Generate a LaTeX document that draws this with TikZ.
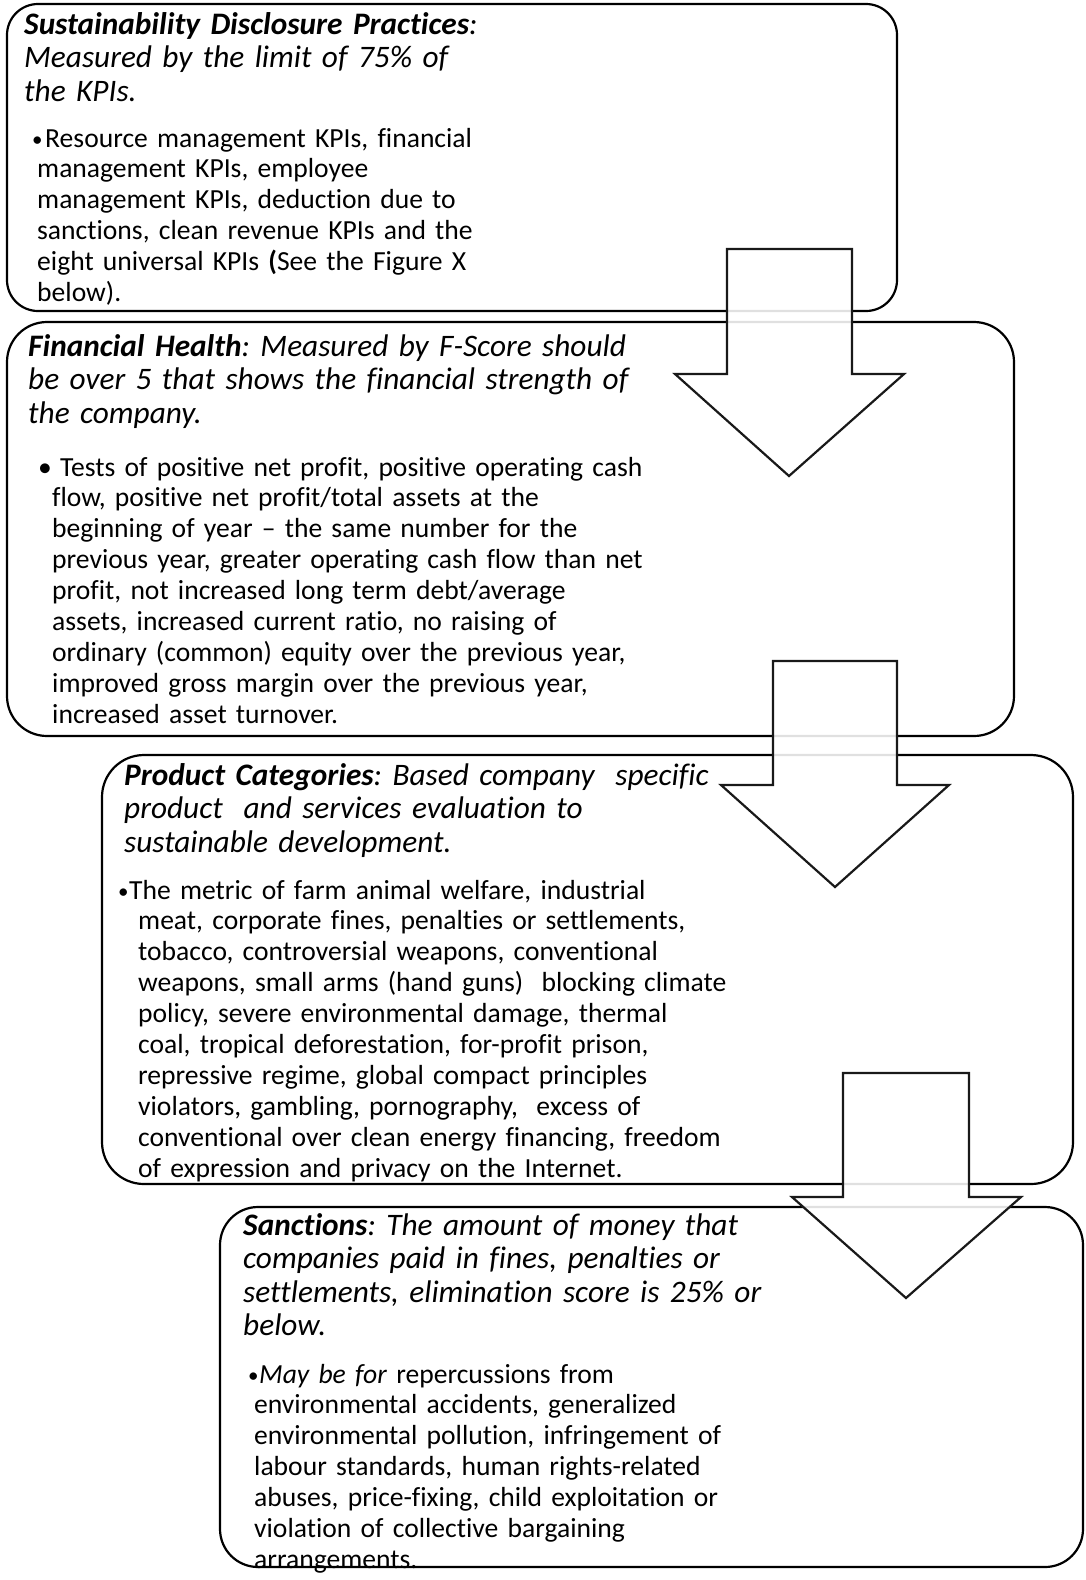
\documentclass[tikz,border=0pt]{standalone}
\usepackage{fontspec}
\setmainfont{Carlito}
\newfontfamily\headfont[WordSpace=0.8,Ligatures={TeX,NoCommon}]{Carlito}
\newfontfamily\bodyfont[WordSpace=0.7,Ligatures={TeX,NoCommon}]{Carlito}
\newcommand\dotmark{{\fontsize{21}{21}\selectfont\raisebox{1pt}{\textbullet}}}
\frenchspacing
\begin{document}
\begin{tikzpicture}[x=1pt,y=-1pt,
  stage/.style={draw=black,line width=2.2pt,fill=white},
  flow/.style={draw=black!90,line width=2.2pt,fill=white,fill opacity=0.88,line join=miter},
  head/.style={anchor=base west,inner sep=0pt,text width=900pt,align=left,
    font=\headfont\fontsize{31.3}{33.6}\selectfont\itshape},
  body/.style={anchor=base west,inner sep=0pt,text width=900pt,align=left,
    font=\bodyfont\fontsize{27.6}{30.9}\selectfont}]
\useasboundingbox (0,0) rectangle (1085,1580);

% stage boxes
\draw[stage,rounded corners=31pt] (7,4) rectangle (897,311);
\draw[stage,rounded corners=40pt] (7,322) rectangle (1014,736);
\draw[stage,rounded corners=42pt] (102,755) rectangle (1073,1184);
\draw[stage,rounded corners=38pt] (220,1207) rectangle (1083,1567);

% stage 1
\node[head] (h1) at (24,34) {\textbf{Sustainability Disclosure Practices}:\\
Measured by the limit of 75\% of\\ the KPIs.};
\node[body] (t1) at (37,147) {\makebox[0pt][l]{\hspace*{-5pt}\dotmark}\hspace*{8pt}Resource management KPIs, financial\\
management KPIs, employee\\
management KPIs, deduction due to\\
sanctions, clean revenue KPIs and the\\
eight universal KPIs \textbf{(}See the Figure X\\
below).};

% stage 2
\node[head] (h2) at (28,356) {\textbf{Financial Health}: Measured by F-Score should\\
be over 5 that shows the financial strength of\\ the company.};
\node[body] (t2) at (52,476) {\makebox[0pt][l]{\hspace*{-14pt}\textbullet}\hspace*{8pt}Tests of positive net profit, positive operating cash\\
flow, positive net profit/total assets at the\\
beginning of year -- the same number for the\\
previous year, greater operating cash flow than net\\
profit, not increased long term debt/average\\
assets, increased current ratio, no raising of\\
ordinary (common) equity over the previous year,\\
improved gross margin over the previous year,\\
increased asset turnover.};

% stage 3
\node[head] (h3) at (124,785) {\textbf{Product Categories}: Based company \ specific\\
product \ and services evaluation to\\ sustainable development.};
\node[body] (t3) at (138,899) {\makebox[0pt][l]{\hspace*{-20pt}\dotmark}\hspace*{-9pt}The metric of farm animal welfare, industrial\\
meat, corporate fines, penalties or settlements,\\
tobacco, controversial weapons, conventional\\
weapons, small arms (hand guns) \ blocking climate\\
policy, severe environmental damage, thermal\\
coal, tropical deforestation, for-profit prison,\\
repressive regime, global compact principles\\
violators, gambling, pornography, \ excess of\\
conventional over clean energy financing, freedom\\
of expression and privacy on the Internet.};

% stage 4
\node[head] (h4) at (243,1235) {\textbf{Sanctions}: The amount of money that\\
companies paid in fines, penalties or\\
settlements, elimination score is 25\% or\\ below.};
\node[body] (t4) at (254,1383) {\makebox[0pt][l]{\hspace*{-6pt}\dotmark}\hspace*{5pt}\textit{May be for} repercussions from\\
environmental accidents, generalized\\
environmental pollution, infringement of\\
labour standards, human rights-related\\
abuses, price-fixing, child exploitation or\\
violation of collective bargaining\\
arrangements.};

% block arrows between stages
\draw[flow] (727,249) -- (852,249) -- (852,374) -- (904,374) -- (789,476)
  -- (675,374) -- (727,374) -- cycle;
\draw[flow] (773,661) -- (897,661) -- (897,785) -- (949,785) -- (835,887)
  -- (721,785) -- (773,785) -- cycle;
\draw[flow] (843,1073) -- (969,1073) -- (969,1197) -- (1021,1197) -- (906,1298)
  -- (792,1197) -- (843,1197) -- cycle;
\end{tikzpicture}
\end{document}
